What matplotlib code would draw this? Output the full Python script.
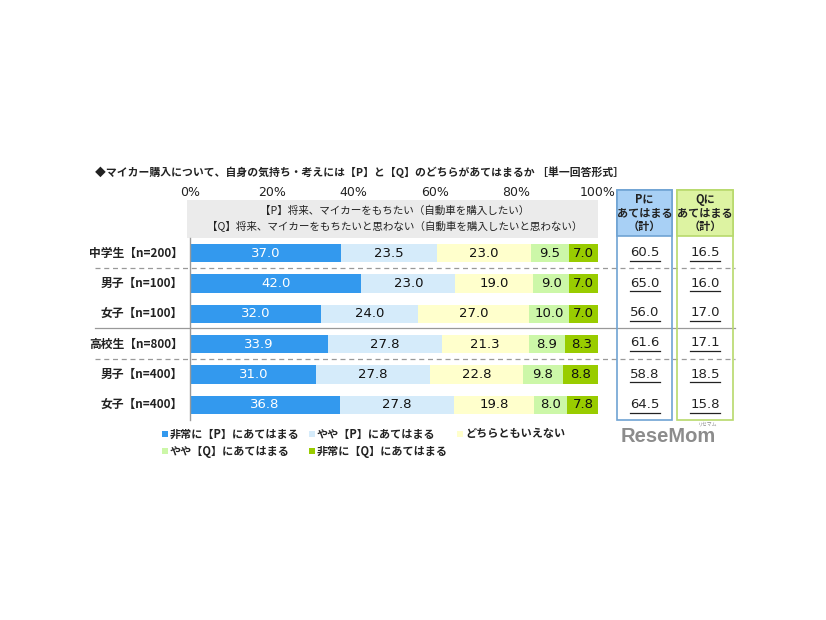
import matplotlib.pyplot as plt
from matplotlib.patches import Rectangle
from matplotlib.lines import Line2D

plt.rcParams['font.family'] = ['Noto Sans CJK JP', 'DejaVu Sans']

# --- data ---
groups = ["中学生【n=200】", "男子【n=100】", "女子【n=100】",
          "高校生【n=800】", "男子【n=400】", "女子【n=400】"]
very_p = [37.0, 42.0, 32.0, 33.9, 31.0, 36.8]
some_p = [23.5, 23.0, 24.0, 27.8, 27.8, 27.8]
neither = [23.0, 19.0, 27.0, 21.3, 22.8, 19.8]
some_q = [9.5, 9.0, 10.0, 8.9, 9.8, 8.0]
very_q = [7.0, 7.0, 7.0, 8.3, 8.8, 7.8]
p_total = ["60.5", "65.0", "56.0", "61.6", "58.8", "64.5"]
q_total = ["16.5", "16.0", "17.0", "17.1", "18.5", "15.8"]
series_names = ["非常に【P】にあてはまる", "やや【P】にあてはまる", "どちらともいえない",
                "やや【Q】にあてはまる", "非常に【Q】にあてはまる"]
colors = ["#3399EE", "#D5EBFA", "#FFFFCC", "#CCF7A8", "#99CC00"]
ticks = [0, 20, 40, 60, 80, 100]

W, H = 826, 620
fig = plt.figure(figsize=(W / 100, H / 100), dpi=100)


def fx(px):
    return px / W


def fy(py):
    return 1 - py / H


# main bar axes
x0, x1, y_top, y_bot = 190, 598, 238, 420
ax = fig.add_axes([fx(x0), fy(y_bot), fx(x1) - fx(x0), fy(y_top) - fy(y_bot)])
n = len(groups)
ypos = list(range(n))
left = [0.0] * n
all_series = [very_p, some_p, neither, some_q, very_q]
for i, (vals, c) in enumerate(zip(all_series, colors)):
    ax.barh(ypos, vals, left=left, height=0.6, color=c)
    for y, v, l in zip(ypos, vals, left):
        ax.text(l + v / 2, y, f"{v:.1f}", ha="center", va="center", fontsize=9.5,
                color="white" if i == 0 else "#111111", family="DejaVu Sans")
    left = [l + v for l, v in zip(left, vals)]
ax.set_xlim(0, 100)
ax.set_ylim(n - 0.5, -0.5)
ax.axis("off")

# left axis line
fig.add_artist(Line2D([fx(x0), fx(x0)], [fy(y_top), fy(y_bot)], color="#999999", lw=1))

# category labels
for y, g in zip(ypos, groups):
    ax.text(-1.8, y, g, ha="right", va="center", fontsize=8.5, fontweight="bold",
            color="#222222", clip_on=False)

# separators
row_px = [253, 283, 313, 343, 374, 405]
for k, style in [(0, "dashed"), (2, "solid"), (3, "dashed")]:
    yy = (row_px[k] + row_px[k + 1]) / 2
    fig.add_artist(Line2D([fx(95), fx(735)], [fy(yy), fy(yy)], color="#999999",
                          lw=0.9, linestyle=(0, (4, 3)) if style == "dashed" else "-"))

# title
fig.text(fx(95), fy(172), "◆マイカー購入について、自身の気持ち・考えには【P】と【Q】のどちらがあてはまるか ［単一回答形式］",
         ha="left", va="center", fontsize=7.8, fontweight="bold", color="#222222")

# top percent ticks
for t in ticks:
    fig.text(fx(x0 + (x1 - x0) * t / 100), fy(193), f"{t}%", ha="center", va="center",
             fontsize=9, color="#222222", family="DejaVu Sans")

# header box
fig.add_artist(Rectangle((fx(187), fy(238)), fx(598) - fx(187), fy(200) - fy(238),
                         facecolor="#EBEBEB", edgecolor="none"))
fig.text(fx(395), fy(211), "【P】将来、マイカーをもちたい（自動車を購入したい）",
         ha="center", va="center", fontsize=7.6, color="#222222")
fig.text(fx(395), fy(227), "【Q】将来、マイカーをもちたいと思わない（自動車を購入したいと思わない）",
         ha="center", va="center", fontsize=7.6, color="#222222")

# right summary columns
cols = [(617, 672, "#A8D0F5", "#6FA3D3", "Pに\nあてはまる\n（計）", p_total),
        (677, 733, "#DDF3A2", "#B8D96C", "Qに\nあてはまる\n（計）", q_total)]
for cx0, cx1, fc, ec, head, vals in cols:
    fig.add_artist(Rectangle((fx(cx0), fy(420)), fx(cx1) - fx(cx0), fy(190) - fy(420),
                             facecolor="none", edgecolor=ec, lw=1.2, zorder=3))
    fig.add_artist(Rectangle((fx(cx0), fy(236)), fx(cx1) - fx(cx0), fy(190) - fy(236),
                             facecolor=fc, edgecolor=ec, lw=1.2, zorder=3))
    cxm = (cx0 + cx1) / 2
    fig.text(fx(cxm), fy(213), head, ha="center", va="center", fontsize=8,
             fontweight="bold", color="#222222", linespacing=1.05, zorder=4)
    for yy, v in zip(row_px, vals):
        fig.text(fx(cxm), fy(yy), v, ha="center", va="center", fontsize=9.5,
                 color="#222222", family="DejaVu Sans")
        fig.add_artist(Line2D([fx(cxm - 15), fx(cxm + 15)], [fy(yy + 8), fy(yy + 8)],
                              color="#222222", lw=0.9))

# legend (manual, two rows)
leg_pos = [(165, 434), (312, 434), (460, 434), (165, 451), (312, 451)]
for (lx, ly), name, c in zip(leg_pos, series_names, colors):
    fig.add_artist(Rectangle((fx(lx - 3), fy(ly + 3)), fx(6), 6 / H,
                             facecolor=c, edgecolor="none"))
    fig.text(fx(lx + 5), fy(ly), name, ha="left", va="center", fontsize=8,
             fontweight="bold", color="#222222")

# logo
fig.text(fx(621), fy(436), "ReseMom", ha="left", va="center", fontsize=14.5,
         fontweight="bold", color="#8C8C8C", family="Liberation Sans")
fig.text(fx(708), fy(424), "リセマム", ha="center", va="center", fontsize=3.5, color="#8C8C8C")

fig.savefig("out.png", dpi=100, facecolor="white")
